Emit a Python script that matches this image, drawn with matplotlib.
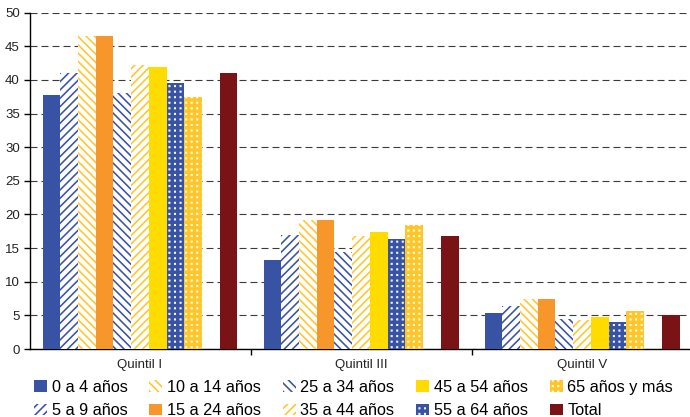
import numpy as np
import matplotlib
matplotlib.use("Agg")
import matplotlib.pyplot as plt
import matplotlib.hatch as mhatch
from matplotlib.patches import Patch

# ---------------- data ----------------
groups = ["Quintil I", "Quintil III", "Quintil V"]
series = ["0 a 4 años", "5 a 9 años", "10 a 14 años", "15 a 24 años",
          "25 a 34 años", "35 a 44 años", "45 a 54 años", "55 a 64 años",
          "65 años y más", "Total"]
v_0_4 = [37.8, 13.2, 5.4]
v_5_9 = [41.0, 16.9, 6.4]
v_10_14 = [46.6, 19.2, 7.4]
v_15_24 = [46.6, 19.2, 7.4]
v_25_34 = [38.0, 14.4, 4.4]
v_35_44 = [42.2, 16.8, 4.3]
v_45_54 = [41.9, 17.4, 4.8]
v_55_64 = [39.5, 16.4, 4.0]
v_65 = [37.5, 18.5, 5.7]
v_total = [41.1, 16.8, 5.1]
values = [v_0_4, v_5_9, v_10_14, v_15_24, v_25_34, v_35_44,
          v_45_54, v_55_64, v_65, v_total]
yticks = [0, 5, 10, 15, 20, 25, 30, 35, 40, 45, 50]


# ---------- grid-of-dots hatch (replaces the '.' pattern) ----------
class GridDots(mhatch.HatchPatternBase):
    side = 0.08

    def __init__(self, hatch, density):
        self.n = hatch.count('.') * density
        self.num_vertices = self.n * self.n * 5

    def set_vertices_and_codes(self, vertices, codes):
        n = self.n
        h = self.side / n / 2.0
        sq = np.array([[-h, -h], [h, -h], [h, h], [-h, h], [-h, -h]])
        cs = [1, 2, 2, 2, 79]
        k = 0
        for i in range(n):
            for j in range(n):
                c = np.array([(i + 0.5) / n, (j + 0.5) / n])
                vertices[k:k + 5] = sq + c
                codes[k:k + 5] = cs
                k += 5


mhatch._hatch_types[:] = [t for t in mhatch._hatch_types
                          if t is not mhatch.SmallFilledCircles] + [GridDots]

plt.rcParams['font.family'] = ['Liberation Sans', 'DejaVu Sans']
plt.rcParams['hatch.linewidth'] = 1.15

BLUE = '#3953A4'
GOLD = '#FFC629'
ORANGE = '#F7962B'
YELLOW = '#FFDC00'
RED = '#7A1315'

styles = [
    dict(facecolor=BLUE, edgecolor=BLUE, hatch=None),
    dict(facecolor='white', edgecolor=BLUE, hatch='////'),
    dict(facecolor='white', edgecolor=GOLD, hatch='\\\\\\\\'),
    dict(facecolor=ORANGE, edgecolor=ORANGE, hatch=None),
    dict(facecolor='white', edgecolor=BLUE, hatch='\\\\\\\\'),
    dict(facecolor='white', edgecolor=GOLD, hatch='////'),
    dict(facecolor=YELLOW, edgecolor=YELLOW, hatch=None),
    dict(facecolor=BLUE, edgecolor='white', hatch='...'),
    dict(facecolor=GOLD, edgecolor='white', hatch='...'),
    dict(facecolor=RED, edgecolor=RED, hatch=None),
]
slots = [0, 1, 2, 3, 4, 5, 6, 7, 8, 10]

W, H = 690, 417
fig = plt.figure(figsize=(W / 100, H / 100), dpi=100)
left, bottom_px, top_px = 29.5, 349, 12.7
unit = 221.0
ax = fig.add_axes([left / W, (H - bottom_px) / H, 3 * unit / W,
                   (bottom_px - top_px) / H])

x = np.arange(len(groups))
sw = 195.0 / 11 / unit
handles = []
for s, (lab, vals, st, k) in enumerate(zip(series, values, styles, slots)):
    ax.bar(x + (k - 5) * sw, vals, width=sw, linewidth=0,
           facecolor=st['facecolor'], edgecolor=st['edgecolor'],
           hatch=st['hatch'], zorder=3)
    handles.append(Patch(facecolor=st['facecolor'], edgecolor=st['edgecolor'],
                         hatch=st['hatch'], linewidth=0, label=lab))

ax.set_xlim(-0.5, len(groups) - 0.5)
ax.set_ylim(0, 50)
ax.set_yticks(yticks)
ax.yaxis.grid(True, color='#3a3a3a', linewidth=0.8,
              linestyle=(0, (6.3, 3.6)), zorder=0)
ax.set_axisbelow(True)
for sp in ['top', 'right']:
    ax.spines[sp].set_visible(False)
for sp in ['left', 'bottom']:
    ax.spines[sp].set_linewidth(1.0)
    ax.spines[sp].set_color('black')

ax.set_xticks(x)
ax.set_xticklabels(groups, fontsize=9.5, color='#222222')
ax.tick_params(axis='x', which='major', length=0, pad=7)
ax.set_xticks(x[:-1] + 0.5, minor=True)
ax.tick_params(axis='x', which='minor', length=4, width=1, direction='out')
ax.tick_params(axis='y', length=4, width=1, direction='out', pad=3,
               labelsize=9.5, labelcolor='#222222')

fig.legend(handles=handles, labels=series, ncol=5, loc='upper left',
           bbox_to_anchor=(34 / W, 1 - 380 / H), frameon=False,
           borderpad=0, borderaxespad=0, fontsize=11.7,
           handlelength=0.78, handleheight=0.75, handletextpad=0.3,
           columnspacing=1.35, labelspacing=0.5)

fig.savefig('out.png', dpi=100)
